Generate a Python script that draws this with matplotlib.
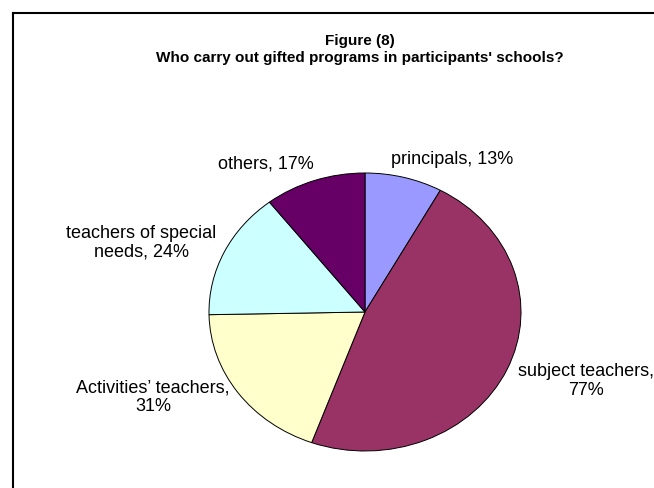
import matplotlib
matplotlib.use("Agg")
import matplotlib.pyplot as plt
from matplotlib.lines import Line2D

# Who carries out gifted programs (percent of participants, multiple answers)
groups = ["principals", "subject teachers", "Activities\u2019 teachers",
          "teachers of special needs", "others"]
shares = [13, 77, 31, 24, 17]
colors = ["#9999FF", "#993366", "#FFFFCC", "#CCFFFF", "#660066"]

# label text split the way the chart wraps it
label_text = ["principals, {}%", "subject teachers,\n{}%",
              "Activities\u2019 teachers,\n{}%", "teachers of special\nneeds, {}%",
              "others, {}%"]
# label centres in pixels from the top-left corner
label_px = [(452, 160), (586, 381), (153, 397), (141, 243), (266, 164)]

W, H = 654, 489
fig = plt.figure(figsize=(W / 100, H / 100), dpi=100)
fig.patch.set_facecolor("white")

# pie centre and half-axes in pixels (the pie is a stretched ellipse)
cx, cy, rx, ry = 365, 313, 156, 139
ax = fig.add_axes([0, 0, 1, 1])
ax.pie(shares, colors=colors, startangle=90, counterclock=False,
       wedgeprops=dict(edgecolor="black", linewidth=0.7))
ax.set_aspect("auto")
ax.set_xlim(-cx / rx, (W - cx) / rx)
ax.set_ylim(-(H - cy) / ry, cy / ry)
ax.axis("off")

font = ["Liberation Sans", "DejaVu Sans"]


def px(x, y):
    return (x - cx) / rx, (cy - y) / ry


for fmt, val, (x, y) in zip(label_text, shares, label_px):
    ax.text(*px(x, y), fmt.format(val), ha="center", va="center",
            fontsize=13, family=font, linespacing=1.1)

fig.text(360 / W, 1 - 41 / H, "Figure (8)", ha="center", va="center",
         fontsize=11, fontweight="bold", family=font)
fig.text(360 / W, 1 - 58 / H, "Who carry out gifted programs in participants' schools?",
         ha="center", va="center", fontsize=11, fontweight="bold", family=font)

# chart border (left and top edges only are visible)
lx, ty = 12.5 / W, 1 - 13.5 / H
fig.add_artist(Line2D([lx, lx], [0, ty], color="black", linewidth=1.5,
                      solid_capstyle="projecting", transform=fig.transFigure))
fig.add_artist(Line2D([lx, 1], [ty, ty], color="black", linewidth=1.5,
                      solid_capstyle="projecting", transform=fig.transFigure))

fig.savefig("out.png", dpi=100)
